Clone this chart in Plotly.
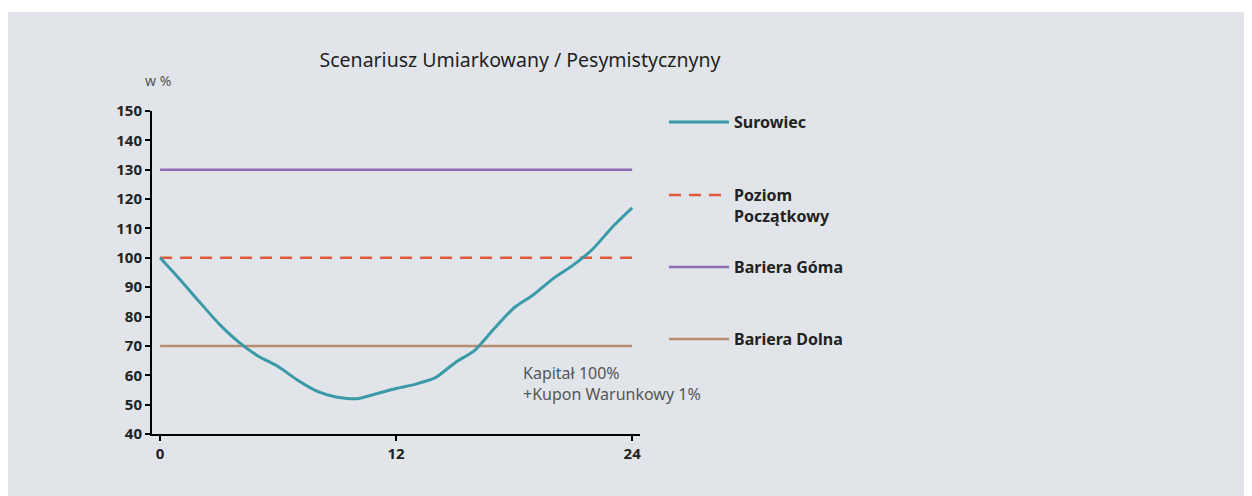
import plotly.graph_objects as go

# ---- data ----
months = list(range(0, 25))
surowiec = [100, 92.7, 85, 77.5, 71.3, 66.5, 63, 58.3, 54.5, 52.5, 52, 53.7, 55.5,
            57, 59.2, 64.3, 68.5, 76, 83, 87.5, 93, 97.5, 103, 110.5, 117]
level_x = [0, 24]
poziom_poczatkowy = 100
bariera_gorna = 130
bariera_dolna = 70
x_ticks = [0, 12, 24]
y_ticks = [40, 50, 60, 70, 80, 90, 100, 110, 120, 130, 140, 150]

BG = "#E1E5EA"
TEAL = "#3A9AA8"
RED = "#E0593A"
PURPLE = "#8D6CB4"
BROWN = "#B88B73"
FONT = "Noto Sans"

OFF = 8  # page body margin
W, H = 1252 - OFF, 496 - OFF
L, R_EDGE = 152 - OFF, 640 - OFF
TOP, BOT = 111 - OFF, 434 - OFF
pw, ph = R_EDGE - L, BOT - TOP

def px(xw):
    return (xw - OFF - L) / pw

def py(yw):
    return (BOT - (yw - OFF)) / ph

fig = go.Figure()

fig.add_trace(go.Scatter(x=level_x, y=[bariera_gorna] * 2, mode="lines",
                         name="Bariera Góma", line=dict(color=PURPLE, width=2.5),
                         legend="legend3"))
fig.add_trace(go.Scatter(x=level_x, y=[bariera_dolna] * 2, mode="lines",
                         name="Bariera Dolna", line=dict(color=BROWN, width=2.5),
                         legend="legend4"))
fig.add_trace(go.Scatter(x=level_x, y=[poziom_poczatkowy] * 2, mode="lines",
                         name="Poziom<br>Początkowy",
                         line=dict(color=RED, width=2.5, dash="12px,8px"),
                         legend="legend2"))
fig.add_trace(go.Scatter(x=months, y=surowiec, mode="lines", name="Surowiec",
                         line=dict(color=TEAL, width=3, shape="spline", smoothing=0.6),
                         legend="legend"))

LEG_FONT = dict(size=16, color="#222222", family=FONT, weight="bold")

def leg(yc):
    return dict(x=px(664), y=py(yc - 17), xanchor="left", yanchor="top",
                bgcolor="rgba(0,0,0,0)", valign="top", itemwidth=60,
                font=LEG_FONT)

fig.update_layout(
    width=W, height=H,
    margin=dict(l=L, r=W - R_EDGE, t=TOP, b=H - BOT),
    paper_bgcolor=BG,
    plot_bgcolor=BG,
    font=dict(family=FONT, color="#222222"),
    title=dict(text="Scenariusz Umiarkowany / Pesymistycznyny",
               x=px(520), xanchor="center", xref="paper",
               y=1 - (60 - OFF) / H, yanchor="middle",
               font=dict(size=19.5, color="#1f1f1f", family=FONT)),
    showlegend=True,
    legend=leg(122),
    legend2=leg(195),
    legend3=leg(267),
    legend4=leg(339),
    xaxis=dict(range=[-0.41, 24.4], tickvals=x_ticks, ticktext=[str(v) for v in x_ticks],
               showgrid=False, zeroline=False, showline=True, linecolor="black",
               linewidth=2, ticks="outside", ticklen=5, tickwidth=1.5, tickcolor="black",
               tickfont=dict(size=15, color="#222222", family=FONT, weight="bold")),
    yaxis=dict(range=[40, 150], tickvals=y_ticks, showgrid=False, zeroline=False,
               showline=True, linecolor="black", linewidth=2, ticks="outside",
               ticklen=5, tickwidth=1.5, tickcolor="black",
               tickfont=dict(size=15, color="#222222", family=FONT, weight="bold")),
    shapes=[dict(type="rect", xref="paper", yref="paper", layer="below",
                 x0=px(0), x1=px(7), y0=py(500), y1=py(0),
                 fillcolor="white", line=dict(width=0)),
            dict(type="rect", xref="paper", yref="paper", layer="below",
                 x0=px(0), x1=px(1260), y0=py(12), y1=py(0),
                 fillcolor="white", line=dict(width=0))],
    annotations=[
        dict(text="w %", xref="paper", yref="paper", x=px(158), y=py(80),
             xanchor="center", yanchor="middle",
             showarrow=False, font=dict(size=14, color="#555555", family=FONT)),
        dict(text="Kapitał 100%<br>+Kupon Warunkowy 1%", xref="paper", yref="paper",
             x=px(521), y=py(383), xanchor="left", yanchor="middle", align="left",
             showarrow=False, font=dict(size=16, color="#555555", family=FONT)),
        dict(x=24.45, y=40, xref="x", yref="y", ax=-12, ay=0, text="",
             showarrow=True, arrowhead=2, arrowsize=1.3, arrowwidth=2,
             arrowcolor="black"),
    ],
)

fig.write_html("out.html")
